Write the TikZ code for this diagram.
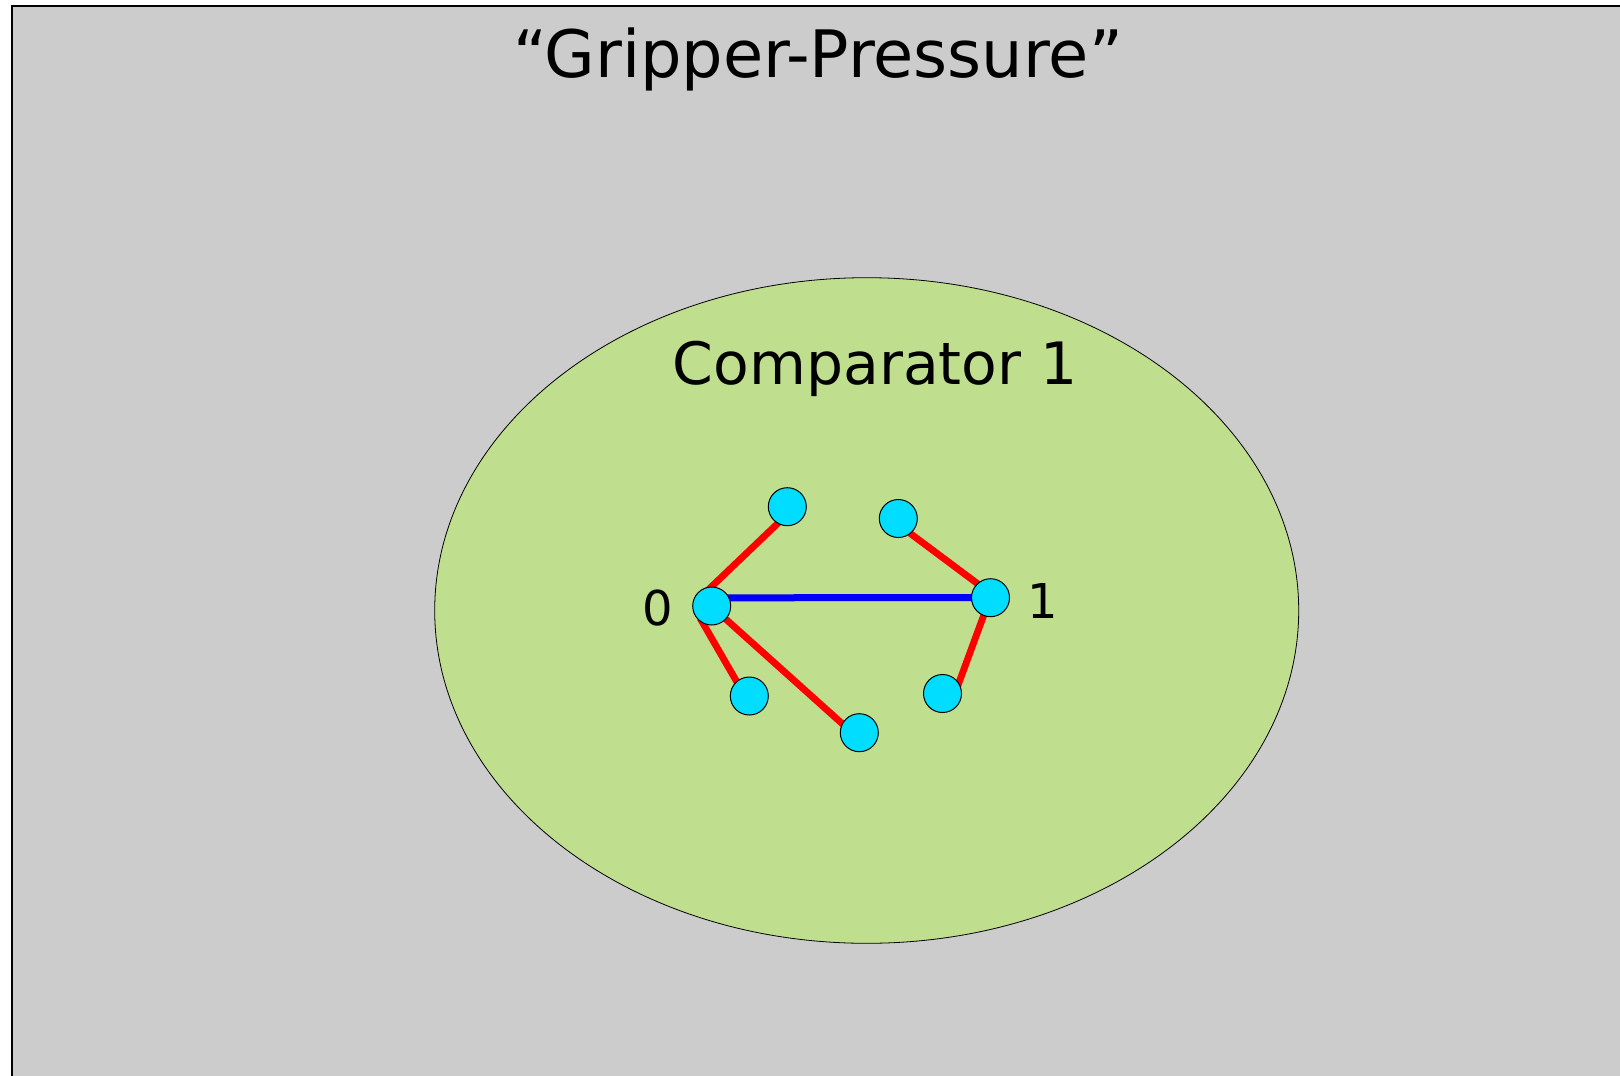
\documentclass[tikz,border=0pt]{standalone}
\usepackage{fontspec}
\setmainfont{DejaVu Sans}
\usetikzlibrary{backgrounds}

\definecolor{panelgray}{RGB}{204,204,204}
\definecolor{cmpgreen}{RGB}{191,222,142}
\definecolor{pincyan}{RGB}{0,221,255}

\begin{document}
\begin{tikzpicture}[x=0.5pt, y=-0.5pt]
    \tikzstyle{pin} = [circle, draw=black, line width=0.5pt, fill=pincyan, minimum size=19pt, inner sep=0pt]
    \tikzstyle{link} = [draw=red, line width=3.4pt, shorten <=-3pt, shorten >=-3pt]
    \tikzstyle{match} = [draw=blue, line width=3.5pt, shorten <=-3pt, shorten >=-3pt]
    \tikzstyle{pinlabel} = [font=\fontsize{24pt}{28pt}\selectfont, inner sep=0pt]

    \useasboundingbox (0,0) rectangle (1620,1075);

    % Panel and comparator region
    \begin{scope}[on background layer]
        \draw [fill=panelgray, line width=1pt] (12,6) rectangle (1660,1110);
        \draw [fill=cmpgreen, line width=0.4pt] (866.7,610.5) ellipse [x radius=432, y radius=332.8];
    \end{scope}

    % Nodes
    \node [anchor=base, inner sep=0pt, font=\fontsize{32.7pt}{40pt}\selectfont] (title) at (818,77.5) {“Gripper-Pressure”};
    \node [anchor=base, inner sep=0pt, font=\fontsize{29.2pt}{36pt}\selectfont] (cmp) at (875,384.5) {Comparator 1};

    \node [pin] (hub0) at (711.7,606) {};
    \node [pin] (hub1) at (990.5,597.7) {};
    \node [pin] (ta) at (787.3,506.7) {};
    \node [pin] (bl) at (749.3,696) {};
    \node [pin] (bm) at (859.3,732.7) {};
    \node [pin] (tr) at (898.3,518.5) {};
    \node [pin] (br) at (942.5,693.5) {};

    \node [pinlabel] (lbl0) at (657.5,608) {0};
    \node [pinlabel] (lbl1) at (1043,601) {1};

    % Connections
    \begin{scope}[on background layer]
        \draw [link] (hub0.north) -- (ta.-120);
        \draw [link] (hub0.-116) -- (bl.131);
        \draw [link] (hub0.-43) -- (bm.152);
        \draw [link] (hub1.133) -- (tr.-51);
        \draw [link] (hub1.-111) -- (br.33);
        \draw [match] (hub0.25) -- (hub1.west);
    \end{scope}
\end{tikzpicture}
\end{document}
